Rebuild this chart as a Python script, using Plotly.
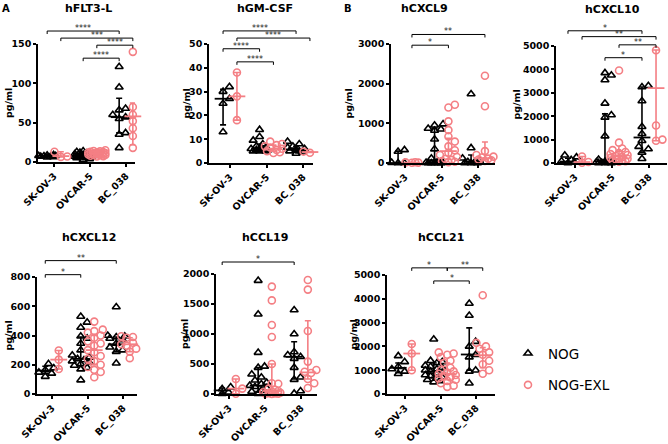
import numpy as np
import plotly.graph_objects as go

W, H = 668, 444
PINK = "#F47F84"
BLACK = "#000000"
FONT = "DejaVu Sans"

cats = ["SK-OV-3", "OVCAR-5", "BC_038"]
series = ["NOG", "NOG-EXL"]
titles = ["hFLT3-L", "hGM-CSF", "hCXCL9", "hCXCL10", "hCXCL12", "hCCL19", "hCCL21"]
y_top = [150, 50, 3000, 5000, 800, 2000, 5000]
y_step = [50, 10, 1000, 1000, 200, 500, 1000]

# points per category (SK-OV-3, OVCAR-5, BC_038)
flt3_nog = [[9, 8.5, 8, 8, 7.5, 7, 7, 6.5, 6],
            [14, 13, 12, 11, 10.5, 10, 9.5, 9, 8.5, 8, 8, 7.5, 7, 7, 6.5, 6, 5.5, 5, 4, 3],
            [121, 95, 68, 66, 60, 57, 55, 37, 35, 18]]
flt3_exl = [[13, 7, 6.5],
            [15, 14, 13.5, 13, 12.5, 12, 12, 11.5, 11, 11, 10.5, 10, 10, 9.5, 9, 9, 8.5, 8, 7.5, 7],
            [140, 75, 70, 65, 60, 52, 43, 33, 21, 18]]
gmcsf_nog = [[32, 30, 27, 25, 13],
             [14, 11, 9.5, 8, 7, 6.5, 6, 6, 5.5, 5.5, 5.5, 5, 5, 5],
             [9, 8, 7, 6.5, 6, 5.5, 5, 5, 4.5, 4]]
gmcsf_exl = [[38, 28, 18],
             [9, 8, 7.5, 7, 6.5, 6, 5.5, 5, 4.5, 4.2],
             [5, 4.8, 4.5, 4.3]]
cxcl9_nog = [[330, 290, 10, 0, 0],
             [980, 950, 870, 850, 820, 600, 350, 120, 40, 20, 10, 5, 0, 0, 0, 0, 0],
             [1740, 380, 120, 60, 30, 10, 0, 0, 0]]
cxcl9_exl = [[20, 15, 10, 5],
             [1470, 1400, 1050, 830, 670, 540, 420, 320, 260, 200, 150, 100, 80, 50, 30, 20],
             [2200, 1430, 300, 200, 160, 140, 110, 90, 70, 50]]
cxcl10_nog = [[330, 250, 140, 80, 30, 0],
              [3850, 3750, 3550, 2550, 2050, 1950, 1150, 150, 100, 60, 40, 30, 20, 10, 5, 0, 0],
              [3300, 3250, 2650, 1550, 1250, 950, 700, 600, 450, 180]]
cxcl10_exl = [[280, 40, 10],
              [3950, 870, 620, 550, 470, 420, 380, 340, 300, 260, 220, 200, 180, 150, 120, 100, 80, 60],
              [4820, 1600, 1000, 950]]
cxcl12_nog = [[206, 178, 164, 148, 141, 119],
              [530, 490, 455, 395, 380, 345, 300, 265, 250, 240, 232, 225, 215, 205, 195, 180, 170, 95],
              [595, 400, 395, 390, 380, 370, 345, 320, 300, 290, 210]]
cxcl12_exl = [[297, 235, 171],
              [495, 440, 430, 420, 400, 385, 360, 345, 330, 300, 285, 260, 240, 225, 200, 185, 165, 150, 115],
              [395, 390, 385, 360, 350, 340, 330, 310, 290, 245]]
ccl19_nog = [[115, 85, 60, 30, 5],
             [1890, 1330, 690, 460, 440, 330, 280, 230, 190, 165, 140, 120, 100, 60, 40, 20, 5],
             [1400, 1000, 700, 650, 620, 590, 440, 280, 240, 50, 10]]
ccl19_exl = [[250, 90, 5],
             [1790, 1560, 1150, 950, 500, 180, 170, 90, 70, 50, 40, 30, 20, 15, 10, 5, 3, 0],
             [1900, 1740, 1050, 540, 400, 370, 350, 250, 180, 100]]
ccl21_nog = [[1600, 1350, 1150, 1050, 950, 850],
             [2300, 1400, 1350, 1300, 1200, 1150, 1100, 1050, 1000, 950, 900, 850, 800, 750, 700, 650, 600, 550, 500],
             [3800, 3300, 2200, 2000, 1650, 1550, 1000, 950, 450]]
ccl21_exl = [[2100, 1700, 1000],
             [1750, 1700, 1650, 1550, 1400, 1300, 1100, 1000, 950, 900, 850, 800, 750, 700, 650, 600, 550, 450, 350, 300],
             [4150, 2150, 2000, 1900, 1750, 1650, 1400, 1250, 1000, 850]]

# (median, lower, upper) per category
flt3_nog_bar = [[8, 7, 9], [8, 6, 11], [57, 37, 81]]
flt3_exl_bar = [[7.5, 6.5, 13], [11, 9, 13], [58, 22, 75]]
gmcsf_nog_bar = [[27, 16, 31], [6, 5.5, 8], [5.5, 5, 7]]
gmcsf_exl_bar = [[28, 18, 38], [6, 5, 7.5], [4.6, 4.4, 4.8]]
cxcl9_nog_bar = [[0, 0, 300], [20, 0, 880], [40, 0, 200]]
cxcl9_exl_bar = [[10, 5, 15], [300, 100, 620], [120, 80, 530]]
cxcl10_nog_bar = [[60, 0, 200], [60, 0, 2100], [1090, 450, 3250]]
cxcl10_exl_bar = [[40, 20, 280], [300, 150, 500], [3200, 950, 4830]]
cxcl12_nog_bar = [[160, 140, 190], [240, 195, 390], [340, 290, 390]]
cxcl12_exl_bar = [[235, 171, 297], [300, 200, 400], [340, 290, 385]]
ccl19_nog_bar = [[60, 10, 100], [140, 40, 440], [620, 250, 870]]
ccl19_exl_bar = [[90, 5, 250], [50, 15, 500], [360, 250, 1220]]
ccl21_nog_bar = [[1100, 900, 1300], [950, 700, 1300], [1660, 1000, 2780]]
ccl21_exl_bar = [[1700, 1000, 2100], [850, 600, 1300], [1630, 1100, 1950]]

# significance brackets: (cat a, series a, cat b, series b, level, label)
flt3_sig = [(0, 0, 2, 0, 1.11, "****"), (0, 1, 2, 1, 1.05, "***"),
            (1, 1, 2, 1, 0.99, "****"), (1, 0, 2, 0, 0.88, "****")]
gmcsf_sig = [(0, 0, 2, 0, 1.11, "****"), (0, 1, 2, 1, 1.05, "****"),
             (0, 0, 1, 0, 0.96, "****"), (0, 1, 1, 1, 0.85, "****")]
cxcl9_sig = [(0, 1, 2, 1, 1.08, "**"), (0, 1, 1, 1, 0.99, "*")]
cxcl10_sig = [(0, 0, 2, 0, 1.13, "*"), (0, 1, 2, 1, 1.08, "**"),
              (1, 1, 2, 1, 1.01, "**"), (1, 0, 2, 0, 0.90, "*")]
cxcl12_sig = [(0, 0, 2, 0, 1.14, "**"), (0, 0, 1, 0, 1.02, "*")]
ccl19_sig = [(0, 0, 2, 0, 1.10, "*")]
ccl21_sig = [(0, 1, 1, 1, 1.06, "*"), (1, 1, 2, 1, 1.06, "**"), (1, 0, 2, 0, 0.95, "*")]

panels = [
    (flt3_nog, flt3_exl, flt3_nog_bar, flt3_exl_bar, flt3_sig),
    (gmcsf_nog, gmcsf_exl, gmcsf_nog_bar, gmcsf_exl_bar, gmcsf_sig),
    (cxcl9_nog, cxcl9_exl, cxcl9_nog_bar, cxcl9_exl_bar, cxcl9_sig),
    (cxcl10_nog, cxcl10_exl, cxcl10_nog_bar, cxcl10_exl_bar, cxcl10_sig),
    (cxcl12_nog, cxcl12_exl, cxcl12_nog_bar, cxcl12_exl_bar, cxcl12_sig),
    (ccl19_nog, ccl19_exl, ccl19_nog_bar, ccl19_exl_bar, ccl19_sig),
    (ccl21_nog, ccl21_exl, ccl21_nog_bar, ccl21_exl_bar, ccl21_sig),
]

# layout boxes in px: left, right, top, bottom, first tick, last tick
boxes = [(38, 135, 44, 162, 54, 126), (209, 313, 44, 163, 230, 303),
         (391, 495, 44, 163, 405, 478), (556, 667, 46, 163, 575, 649),
         (37, 137, 277, 394, 52, 123), (216, 317, 274, 394, 229, 301),
         (387, 495, 275, 394, 405, 476)]
title_pos = [(88, 8), (265, 8), (424, 8), (612, 10), (89, 238), (265, 237), (441, 238)]
ylab_x = [9, 186, 348, 516, 8, 184, 353]
OFF = 0.19


def swarm(vals, ppy, ppx, diam=6.2):
    vals = np.asarray(vals, float)
    cand = [0, 3.2, -3.2, 6.4, -6.4, 8.5, -8.5]
    placed = []
    offs = np.zeros(len(vals))
    for i in np.argsort(vals):
        y = vals[i] * ppy
        best, best_d = 0, -1
        for c in cand:
            d = min([np.hypot(c - px, y - py) for px, py in placed] or [99])
            if d >= diam:
                best = c
                break
            if d > best_d:
                best, best_d = c, d
        placed.append((best, y))
        offs[i] = best / ppx
    return offs


fig = go.Figure()
ann = []
shapes = []

for p, (nog, exl, nog_bar, exl_bar, sig) in enumerate(panels):
    l, r, t, b, t0, t2 = boxes[p]
    sp = (t2 - t0) / 2
    ppy = (b - t) / y_top[p]
    xa = "x" if p == 0 else f"x{p + 1}"
    ya = "y" if p == 0 else f"y{p + 1}"
    sfx = "" if p == 0 else str(p + 1)

    for s, (pts, bars, col, sym) in enumerate([(nog, nog_bar, BLACK, "triangle-up-open"),
                                                (exl, exl_bar, PINK, "circle-open")]):
        xs, ys = [], []
        for c in range(3):
            off = swarm(pts[c], ppy, sp)
            xs += list(c + (2 * s - 1) * OFF + off)
            ys += list(pts[c])
        fig.add_trace(go.Scatter(
            x=xs, y=ys, mode="markers", xaxis=xa, yaxis=ya, cliponaxis=False,
            name=series[s], legendgroup=series[s], showlegend=(p == 0),
            marker=dict(symbol=sym, size=7, color=col, line=dict(width=1.6, color=col))))
        med = [v[0] for v in bars]
        lo = [v[1] for v in bars]
        hi = [v[2] for v in bars]
        fig.add_trace(go.Scatter(
            x=[c + (2 * s - 1) * OFF for c in range(3)], y=med, mode="markers",
            xaxis=xa, yaxis=ya, cliponaxis=False, showlegend=False,
            marker=dict(symbol="line-ew", size=12, color=col, line=dict(width=1.8, color=col)),
            error_y=dict(type="data", symmetric=False,
                         array=[h - m for h, m in zip(hi, med)],
                         arrayminus=[m - q for m, q in zip(med, lo)],
                         color=col, thickness=1.6, width=3)))

    x0 = (l - t0) / sp
    x1 = (r - t0) / sp
    fig.update_layout(**{
        f"xaxis{sfx}": dict(domain=[l / W, r / W], range=[x0, x1], anchor=ya,
                            automargin=False,
                            tickvals=[0, 1, 2], ticktext=cats, tickangle=-45,
                            ticks="outside", ticklen=3, tickwidth=1.5, tickcolor=BLACK,
                            showline=True, linewidth=1.5, linecolor=BLACK,
                            showgrid=False, zeroline=False,
                            tickfont=dict(family=FONT, size=9.5, color=BLACK, weight="bold")),
        f"yaxis{sfx}": dict(domain=[1 - b / H, 1 - t / H], range=[0, y_top[p]], anchor=xa,
                            automargin=False,
                            dtick=y_step[p], tick0=0,
                            ticks="outside", ticklen=3, tickwidth=1.5, tickcolor=BLACK,
                            showline=True, linewidth=1.5, linecolor=BLACK,
                            showgrid=False, zeroline=False,
                            tickfont=dict(family=FONT, size=9.5, color=BLACK, weight="bold")),
    })

    tip = 3 / (b - t)
    for ca, sa, cb, sb, lev, lab in sig:
        xa_ = ca + (2 * sa - 1) * OFF
        xb_ = cb + (2 * sb - 1) * OFF
        shapes.append(dict(type="path", xref=xa, yref=f"{ya} domain",
                           path=f"M {xa_},{lev - tip} L {xa_},{lev} L {xb_},{lev} L {xb_},{lev - tip}",
                           line=dict(color=BLACK, width=1)))
        ann.append(dict(x=(xa_ + xb_) / 2, y=lev, xref=xa, yref=f"{ya} domain",
                        text=lab, showarrow=False, yanchor="bottom", yshift=-4,
                        font=dict(family=FONT, size=8, color="#222222")))

    tx, ty = title_pos[p]
    ann.append(dict(x=tx / W, y=1 - ty / H, xref="paper", yref="paper", text=titles[p],
                    showarrow=False, xanchor="center", yanchor="middle",
                    font=dict(family=FONT, size=11, color=BLACK, weight="bold")))
    ann.append(dict(x=ylab_x[p] / W, y=1 - (t + b) / 2 / H, xref="paper", yref="paper",
                    text="pg/ml", textangle=-90, showarrow=False,
                    xanchor="center", yanchor="middle",
                    font=dict(family=FONT, size=9.5, color=BLACK, weight="bold")))

for lab, x, y in [("A", 6, 8), ("B", 348, 8)]:
    ann.append(dict(x=x / W, y=1 - y / H, xref="paper", yref="paper", text=lab,
                    showarrow=False, xanchor="center", yanchor="middle",
                    font=dict(family=FONT, size=10, color=BLACK, weight="bold")))

fig.update_layout(
    width=W, height=H, margin=dict(l=0, r=0, t=0, b=0, autoexpand=False),
    plot_bgcolor="white", paper_bgcolor="white",
    annotations=ann, shapes=shapes,
    legend=dict(x=508 / W, y=1 - 338 / H, xanchor="left", yanchor="top",
                font=dict(family=FONT, size=13.5, color=BLACK),
                tracegroupgap=11, bgcolor="rgba(0,0,0,0)"),
)

fig.write_html("out.html", config={"displayModeBar": False},
               post_script="document.body.style.margin = '0px';")
